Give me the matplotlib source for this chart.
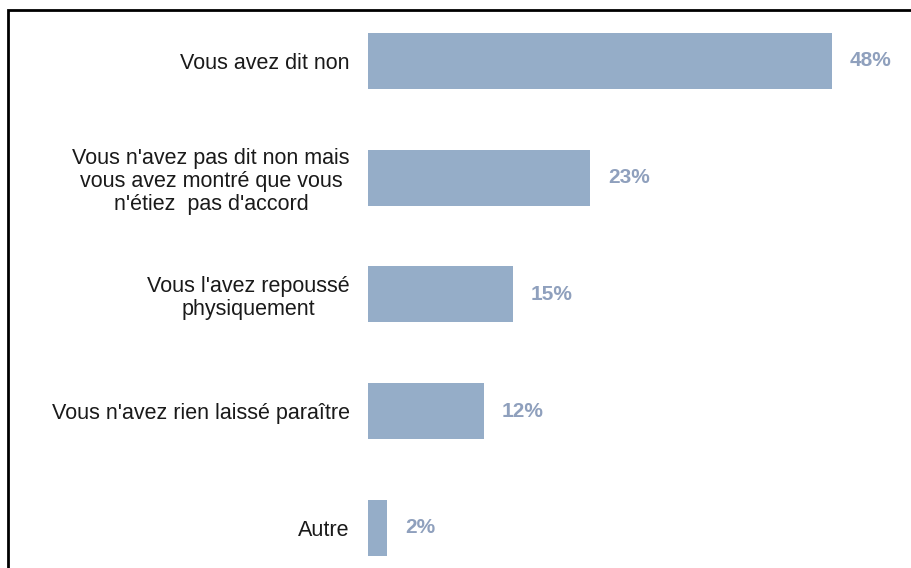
import matplotlib.pyplot as plt
from matplotlib.patches import Rectangle

plt.rcParams['font.family'] = ['Liberation Sans', 'DejaVu Sans']

categories = [
    "Vous avez dit non",
    "Vous n'avez pas dit non mais\nvous avez montré que vous\nn'étiez  pas d'accord",
    "Vous l'avez repoussé\nphysiquement",
    "Vous n'avez rien laissé paraître",
    "Autre",
]
values = [48, 23, 15, 12, 2]
value_labels = ["48%", "23%", "15%", "12%", "2%"]

bar_color = '#95adc8'
label_color = '#8fa0bd'

fig = plt.figure(figsize=(9.12, 5.68), dpi=100)
ax = fig.add_axes([368 / 912, 0, 532 / 912, 1])

pos = range(len(values))
ax.barh(pos, values, height=0.48, color=bar_color)

for i, (v, t) in enumerate(zip(values, value_labels)):
    ax.text(v + 1.8, i, t, va='center', ha='left', fontsize=15,
            fontweight='bold', color=label_color)

ax.set_yticks(list(pos))
ax.set_yticklabels(categories, fontsize=15.5, color='#1a1a1a',
                   linespacing=1.13, multialignment='center')
ax.tick_params(axis='y', length=0, pad=13)
ax.set_xticks([])
ax.set_xlim(0, 55)
ax.set_ylim(4.343, -0.522)
for s in ax.spines.values():
    s.set_visible(False)

# cadre noir (coupé à droite et en bas)
fig.patches.append(Rectangle((8 / 912, -0.1), 1.1, (558 / 568) + 0.1,
                             transform=fig.transFigure, fill=False,
                             edgecolor='black', linewidth=2, clip_on=False))

plt.savefig("out.png", dpi=100)
